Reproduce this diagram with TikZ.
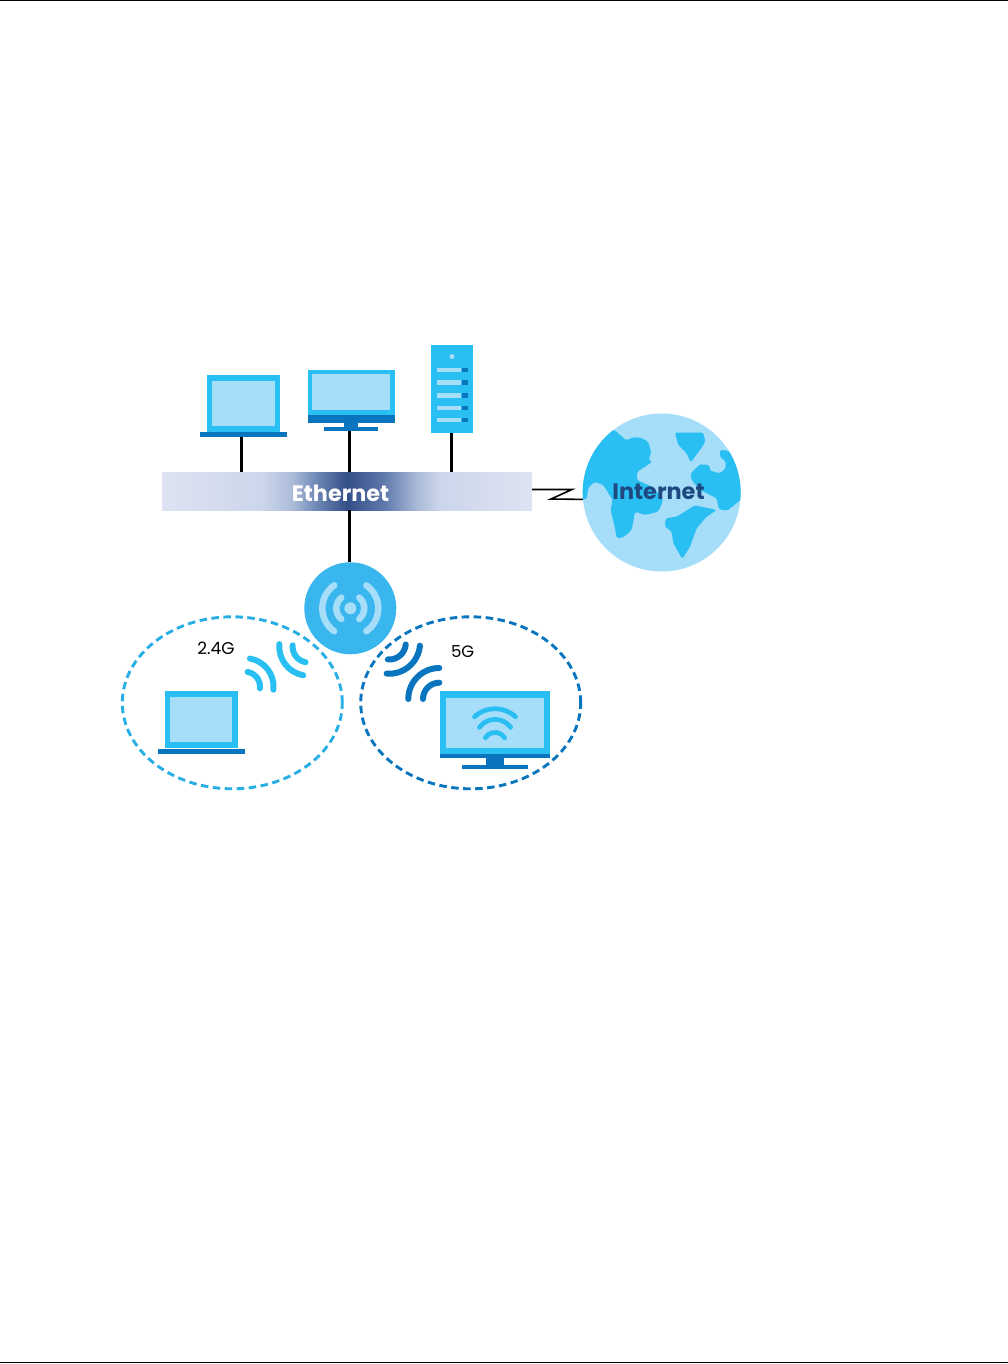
\documentclass[tikz,border=0pt]{standalone}
\usepackage{fontspec}
\setmainfont{Poppins}
\usetikzlibrary{shapes.geometric}
\definecolor{lightsky}{RGB}{166,221,249}
\definecolor{skyblue}{RGB}{41,191,243}
\definecolor{apblue}{RGB}{57,182,238}
\definecolor{darkblue}{RGB}{8,117,190}
\definecolor{navy}{RGB}{30,72,128}
\definecolor{dashsky}{RGB}{38,174,229}
\pgfdeclarehorizontalshading{etherfade}{100bp}{
	rgb(0bp)=(0.87,0.89,0.95);
	rgb(25bp)=(0.87,0.89,0.95);
	rgb(38.6bp)=(0.80,0.84,0.92);
	rgb(42.7bp)=(0.67,0.73,0.85);
	rgb(45.9bp)=(0.43,0.53,0.71);
	rgb(50bp)=(0.20,0.31,0.53);
	rgb(54.9bp)=(0.37,0.47,0.67);
	rgb(59.5bp)=(0.67,0.73,0.85);
	rgb(62.6bp)=(0.80,0.84,0.92);
	rgb(75bp)=(0.87,0.89,0.95);
	rgb(100bp)=(0.87,0.89,0.95)}
\tikzset{
	part/.style={rectangle,inner sep=0pt,outer sep=0pt,minimum width=#1},
	link/.style={draw=black,line width=2.8pt},
	cell/.style={ellipse,draw=#1,line width=2.9pt,dash pattern=on 7.5pt off 4.5pt,inner sep=0pt,minimum width=220pt,minimum height=172pt},
	wave/.style={draw=#1,line width=6pt,line cap=round},
	band/.style={text=black,inner sep=0pt}
}
\begin{document}
\begin{tikzpicture}[x=1pt,y=-1pt]
	\useasboundingbox (0,0) rectangle (1008,1364);
	% page rules
	\coordinate (ruleTL) at (0,0.5);
	\coordinate (ruleTR) at (1008,0.5);
	\coordinate (ruleBL) at (0,1362.5);
	\coordinate (ruleBR) at (1008,1362.5);
	\draw[line width=1.4pt] (ruleTL) -- (ruleTR);
	\draw[line width=1.4pt] (ruleBL) -- (ruleBR);
	% ethernet
	\node[part=370pt,minimum height=38pt,shading=etherfade,shading angle=0] (ether) at (347,491) {};
	\node[text=white,font=\fontsize{22.3}{23}\selectfont\bfseries,inner sep=0pt] (etherlabel) at (340.5,493) {Ethernet};
	% laptop
	\node[part=73pt,minimum height=57pt,fill=skyblue] (lap) at (243.5,403.5) {};
	\node[part=63pt,minimum height=45pt,fill=lightsky] (lapscreen) at (243.5,403.5) {};
	\node[part=87pt,minimum height=5pt,fill=darkblue] (lapbase) at (243,434.5) {};
	% monitor
	\node[part=87pt,minimum height=45.5pt,fill=skyblue] (mon) at (351,392.5) {};
	\node[part=77.5pt,minimum height=36pt,fill=lightsky] (monscreen) at (351,392) {};
	\node[part=87pt,minimum height=7.5pt,fill=darkblue] (monband) at (351,418.8) {};
	\node[part=14.5pt,minimum height=6pt,fill=darkblue] (monneck) at (351,425) {};
	\node[part=53.5pt,minimum height=4pt,fill=darkblue] (monfoot) at (351,429) {};
	% server
	\node[part=41.5pt,minimum height=88pt,fill=skyblue] (srv) at (452.2,388.5) {};
	\node[circle,fill=lightsky,inner sep=0pt,minimum size=5pt] (srvdot) at (452,356.5) {};
	\foreach \i/\yy in {1/370,2/382.7,3/395.3,4/408,5/420}{
		\node[part=23.5pt,minimum height=4.5pt,fill=lightsky] (srvbar\i) at (449.2,\yy) {};
		\node[part=6pt,minimum height=4.5pt,fill=darkblue] (srvled\i) at (464.8,\yy) {};
	}
	% links to the ethernet
	\draw[link] (lapbase.south -| 241.5,0) -- (241.5,0 |- ether.north);
	\draw[link] (monfoot.south -| 349.5,0) -- (349.5,0 |- ether.north);
	\draw[link] (srv.south -| 451.5,0) -- (451.5,0 |- ether.north);
	% globe
	\node[circle,fill=lightsky,inner sep=0pt,minimum size=158pt] (globe) at (661.7,492.5) {};
	\begin{scope}[shift={(520,400)},x=0.3333pt,y=-0.3333pt]
		\clip (425,277.5) circle[radius=237];
		\fill[skyblue,rounded corners=2.5pt] (283,90) -- (320,122) -- (335,113) -- (360,112) -- (385,125) -- (394,160) -- (385,180) -- (398,185) -- (352,215) -- (350,240) -- (400,262) -- (430,300) -- (415,335) -- (375,345) -- (345,335) -- (335,390) -- (310,412) -- (290,415) -- (285,385) -- (272,330) -- (278,300) -- (250,255) -- (225,245) -- (205,262) -- (200,298) -- (170,298) -- (170,90) -- cycle;
		\fill[skyblue,rounded corners=1.5pt] (465,98) -- (550,98) -- (556,125) -- (540,150) -- (512,187) -- (500,160) -- (475,135) -- cycle;
		\fill[skyblue,rounded corners=1.5pt] (600,150) -- (625,152) -- (680,220) -- (680,285) -- (622,332) -- (597,328) -- (590,295) -- (540,270) -- (515,240) -- (512,220) -- (540,193) -- (568,195) -- (570,212) -- (600,220) -- (617,205) -- (617,185) -- (600,170) -- cycle;
		\fill[skyblue,rounded corners=1.5pt] (525,316) -- (590,330) -- (560,350) -- (530,385) -- (510,440) -- (487,477) -- (460,430) -- (455,395) -- (435,380) -- (437,355) -- (470,350) -- cycle;
	\end{scope}
	\node[text=navy,font=\fontsize{22.4}{23}\selectfont\bfseries,inner sep=0pt] (netlabel) at (658.5,492) {Internet};
	\coordinate (zigA) at (572,489.5);
	\coordinate (zigB) at (551,499);
	\draw[line width=1.6pt] (ether.east |- zigA) -- (zigA) -- (zigB) -- (globe.185);
	% access point
	\node[circle,fill=apblue,inner sep=0pt,minimum size=92pt] (ap) at (350.3,608.3) {};
	\node[circle,fill=lightsky,inner sep=0pt,minimum size=12pt] (apdot) at (ap.center) {};
	\draw[link] (ether.south -| ap.91) -- (ap.91);
	\foreach \a in {-50,130}{
		\draw[draw=lightsky,line width=6.5pt,line cap=round] (ap.center) ++(\a:14) arc[start angle=\a,end angle=\a+100,radius=14];
		\draw[draw=lightsky,line width=6.5pt,line cap=round] (ap.center) ++(\a-5:28) arc[start angle=\a-5,end angle=\a+105,radius=28];
	}
	% 2.4G
	\node[cell=dashsky] (cellA) at (232.3,702.8) {};
	\node[band,font=\fontsize{17}{17}\selectfont] (labelA) at (216,648.3) {2.4G};
	\coordinate (waveA) at (245,686.7);
	\coordinate (waveB) at (308.3,646.7);
	\draw[wave=skyblue] (waveA) ++(-80:28.6) arc[start angle=-80,end angle=6,radius=28.6];
	\draw[wave=skyblue] (waveA) ++(-80:15) arc[start angle=-80,end angle=6,radius=15];
	\draw[wave=skyblue] (waveB) ++(100:29) arc[start angle=100,end angle=185,radius=29];
	\draw[wave=skyblue] (waveB) ++(100:15.7) arc[start angle=100,end angle=185,radius=15.7];
	\node[part=72.7pt,minimum height=57.3pt,fill=skyblue] (lapB) at (201.3,719.7) {};
	\node[part=62pt,minimum height=45pt,fill=lightsky] (lapBscreen) at (201.3,719.8) {};
	\node[part=86.7pt,minimum height=5pt,fill=darkblue] (lapBbase) at (201.3,751.2) {};
	% 5G
	\node[cell=darkblue] (cellB) at (470.7,702.8) {};
	\node[band,font=\fontsize{16.5}{17}\selectfont] (labelB) at (462.7,651.7) {5G};
	\coordinate (waveC) at (389.3,643);
	\coordinate (waveD) at (439.3,699);
	\draw[wave=darkblue] (waveC) ++(5:30.7) arc[start angle=5,end angle=95,radius=30.7];
	\draw[wave=darkblue] (waveC) ++(5:16.5) arc[start angle=5,end angle=95,radius=16.5];
	\draw[wave=darkblue] (waveD) ++(180:31) arc[start angle=180,end angle=270,radius=31];
	\draw[wave=darkblue] (waveD) ++(180:16.3) arc[start angle=180,end angle=270,radius=16.3];
	\node[part=109.7pt,minimum height=62.7pt,fill=skyblue] (tv) at (494.8,722.7) {};
	\node[part=97.7pt,minimum height=50.6pt,fill=lightsky] (tvscreen) at (494.8,723) {};
	\node[part=109.7pt,minimum height=4.5pt,fill=darkblue] (tvband) at (494.8,756.2) {};
	\node[part=18.6pt,minimum height=7pt,fill=darkblue] (tvneck) at (495,761.5) {};
	\node[part=66.6pt,minimum height=4pt,fill=darkblue] (tvfoot) at (495,766.7) {};
	\coordinate (tvwifi) at (495,738.7);
	\coordinate (tvwifiB) at (495,743.7);
	\draw[draw=skyblue,line width=4.7pt,line cap=round] (tvwifi) ++(-133:30) arc[start angle=-133,end angle=-47,radius=30];
	\draw[draw=skyblue,line width=4.7pt,line cap=round] (tvwifi) ++(-144:19.3) arc[start angle=-144,end angle=-36,radius=19.3];
	\draw[draw=skyblue,line width=4.7pt,line cap=round] (tvwifiB) ++(-148:11.3) arc[start angle=-148,end angle=-32,radius=11.3];
\end{tikzpicture}
\end{document}
